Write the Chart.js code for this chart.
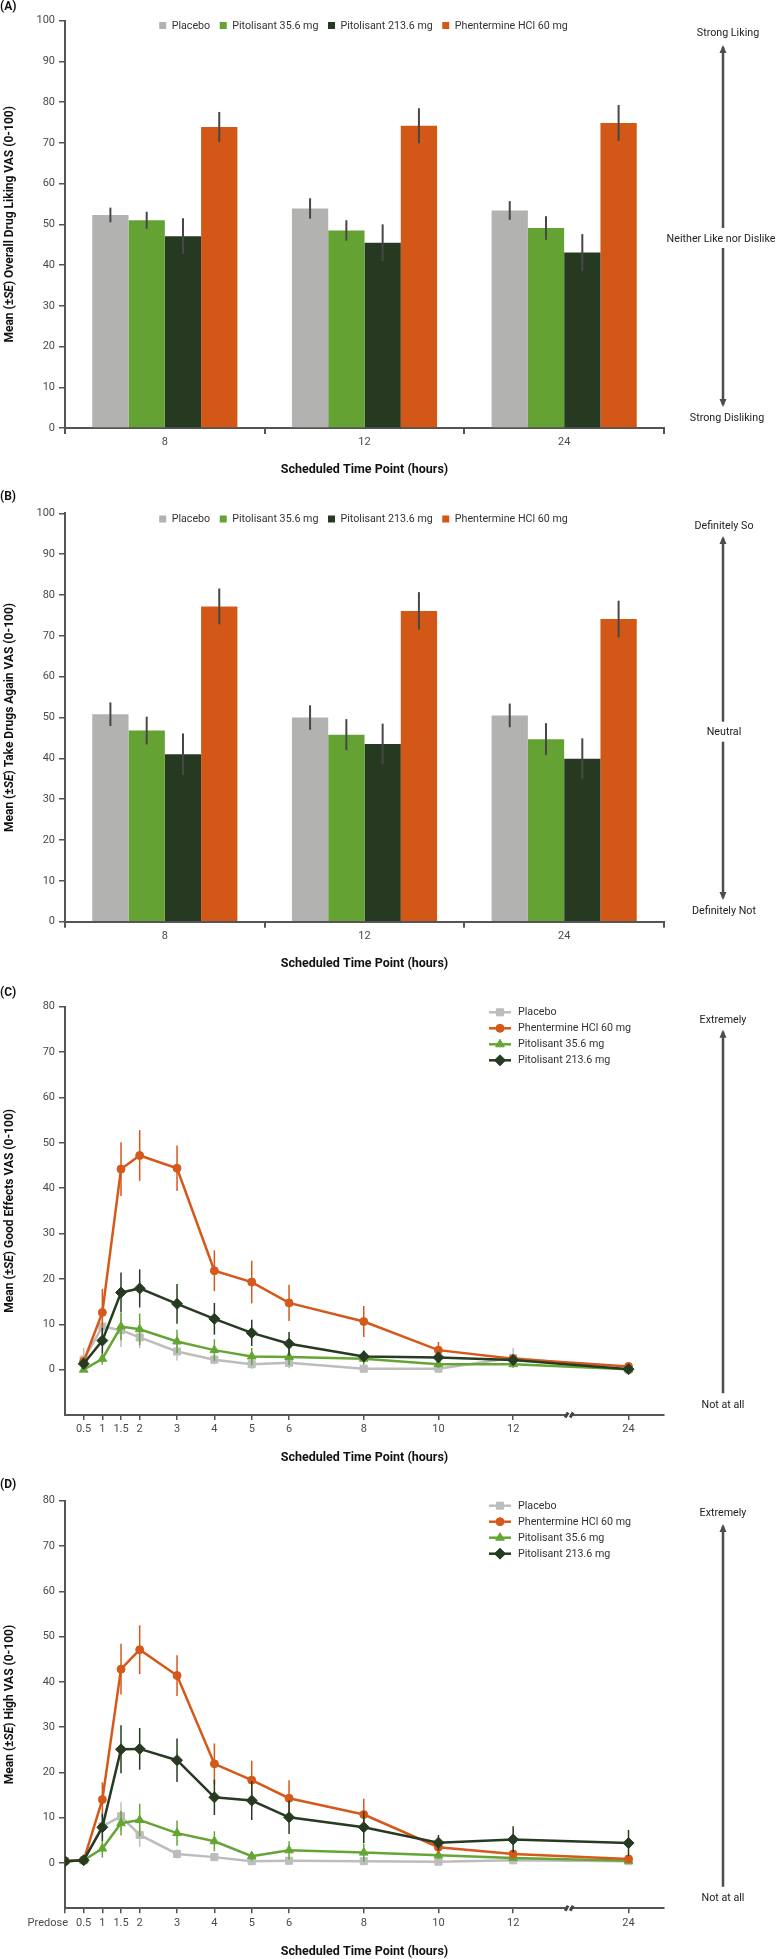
<!DOCTYPE html>
<html>
<head>
<meta charset="utf-8">
<script src="https://cdn.jsdelivr.net/npm/chart.js@4.4.0/dist/chart.umd.min.js"></script>
<style>
  body { margin: 0; background: #fff; width: 776px; height: 1959px; overflow: hidden; position: relative; }
  canvas { position: absolute; left: 0; }
</style>
</head>
<body>
<canvas id="chartA" width="776" height="485" style="top:0px"></canvas>
<canvas id="chartB" width="776" height="495" style="top:485px"></canvas>
<canvas id="chartC" width="776" height="490" style="top:980px"></canvas>
<canvas id="chartD" width="776" height="489" style="top:1470px"></canvas>
<script>
const FONT = 'Roboto, "Open Sans", sans-serif';

// ---- bar panels (A, B) ----
const barHours = ["8", "12", "24"];
const barGroups = ["Placebo", "Pitolisant 35.6 mg", "Pitolisant 213.6 mg", "Phentermine HCl 60 mg"];
const barColors = ["#b2b2b1", "#64a233", "#263a21", "#d35818"];

// (A) overall drug liking VAS, mean and SE
const likingPlacebo = [52.3, 53.9, 53.4];
const likingPlaceboSE = [1.8, 2.5, 2.3];
const likingPit35 = [51.0, 48.5, 49.1];
const likingPit35SE = [2.1, 2.5, 2.9];
const likingPit213 = [47.1, 45.5, 43.1];
const likingPit213SE = [4.4, 4.5, 4.5];
const likingPhen = [73.9, 74.2, 74.9];
const likingPhenSE = [3.7, 4.3, 4.4];

// (B) take drugs again VAS
const againPlacebo = [50.8, 50.0, 50.5];
const againPlaceboSE = [2.9, 3.0, 2.9];
const againPit35 = [46.8, 45.8, 44.7];
const againPit35SE = [3.4, 3.8, 3.9];
const againPit213 = [41.0, 43.5, 39.9];
const againPit213SE = [5.1, 5.0, 5.0];
const againPhen = [77.2, 76.1, 74.1];
const againPhenSE = [4.4, 4.6, 4.5];

// ---- line panels (C, D) ----
const timesC = [0.5, 1, 1.5, 2, 3, 4, 5, 6, 8, 10, 12, 24];
const timesD = [0, 0.5, 1, 1.5, 2, 3, 4, 5, 6, 8, 10, 12, 24];

// (C) good effects VAS
const goodPlacebo = [2.2, 9.5, 8.7, 7.1, 4.0, 2.2, 1.2, 1.5, 0.2, 0.2, 2.6, 0.0];
const goodPlaceboSE = [2.6, 2.0, 3.7, 2.4, 2.0, 1.0, 1.0, 1.2, 0.5, 0.5, 2.1, 0.3];
const goodPhen = [1.8, 12.6, 44.2, 47.2, 44.4, 21.8, 19.3, 14.7, 10.6, 4.3, 2.4, 0.7];
const goodPhenSE = [1.0, 5.2, 5.9, 5.6, 5.0, 4.5, 4.7, 4.0, 3.4, 1.8, 1.0, 0.8];
const goodPit35 = [0.0, 2.4, 9.5, 8.9, 6.2, 4.3, 2.9, 2.8, 2.4, 1.2, 1.2, 0.1];
const goodPit35SE = [0.5, 1.3, 3.0, 3.5, 2.6, 2.4, 1.9, 1.8, 1.3, 0.8, 0.8, 0.4];
const goodPit213 = [1.3, 6.4, 17.0, 17.9, 14.5, 11.2, 8.1, 5.7, 2.9, 2.7, 2.1, 0.1];
const goodPit213SE = [1.0, 2.8, 4.4, 4.2, 4.4, 3.5, 2.9, 2.6, 1.3, 0.8, 1.0, 0.5];

// (D) high VAS
const highPlacebo = [0.4, 0.6, 8.1, 10.3, 6.2, 2.0, 1.3, 0.4, 0.5, 0.4, 0.3, 0.6, 0.4];
const highPlaceboSE = [0.3, 0.4, 2.5, 3.1, 2.6, 1.0, 0.8, 0.4, 0.4, 0.4, 0.3, 0.4, 0.3];
const highPhen = [0.4, 0.6, 14.0, 42.8, 47.1, 41.4, 21.9, 18.3, 14.3, 10.7, 3.5, 2.0, 0.9];
const highPhenSE = [0.3, 0.4, 3.8, 5.6, 5.4, 4.5, 4.5, 4.3, 4.0, 3.5, 1.5, 0.8, 0.6];
const highPit35 = [0.4, 0.6, 3.2, 8.8, 9.5, 6.6, 4.8, 1.5, 2.8, 2.3, 1.7, 1.1, 0.5];
const highPit35SE = [0.3, 0.4, 2.0, 2.7, 3.6, 2.8, 2.2, 1.0, 2.0, 2.0, 0.8, 0.6, 0.4];
const highPit213 = [0.4, 0.6, 7.9, 25.1, 25.2, 22.7, 14.5, 13.8, 10.1, 7.9, 4.5, 5.2, 4.4];
const highPit213SE = [0.3, 0.4, 3.0, 5.3, 4.6, 4.8, 3.9, 4.3, 3.7, 3.5, 1.7, 2.9, 2.9];

// broken time axis: everything after 12 h is squeezed next to it
const BREAK_FROM = 12;
const BREAK_POS = 15.09;
const BREAK_MARK = 13.5;
const X_MAX = 16.04;
function axisPos(t) { return t > BREAK_FROM ? BREAK_POS : t; }

const lineLegend = [
  ["Placebo", "#bdbdbd", "rect", 5],
  ["Phentermine HCl 60 mg", "#d4591b", "circle", 4],
  ["Pitolisant 35.6 mg", "#65a535", "triangle", 5],
  ["Pitolisant 213.6 mg", "#263b21", "rectRot", 5.5]
];

Chart.defaults.font.family = FONT;
Chart.defaults.font.size = 11;
Chart.defaults.color = "#4a4a4a";

// error bars, drawn right after each dataset
const errorBars = {
  id: "errorBars",
  afterDatasetDraw(chart, args) {
    const ds = chart.data.datasets[args.index];
    if (!ds.errors) return;
    const ctx = chart.ctx, y = chart.scales.y;
    ctx.save();
    ctx.strokeStyle = ds.errorColor || ds.borderColor;
    ctx.lineWidth = ds.errorWidth || 1.5;
    args.meta.data.forEach((el, j) => {
      const d = ds.data[j];
      const v = typeof d === "object" ? d.y : d;
      const e = ds.errors[j];
      ctx.beginPath();
      ctx.moveTo(el.x, y.getPixelForValue(v + e));
      ctx.lineTo(el.x, y.getPixelForValue(v - e));
      ctx.stroke();
    });
    ctx.restore();
  }
};

function drawYTitle(ctx, parts, x, y) {
  ctx.save();
  ctx.translate(x, y);
  ctx.rotate(-Math.PI / 2);
  ctx.textBaseline = "middle";
  ctx.textAlign = "left";
  ctx.fillStyle = "#111";
  const fonts = parts.map((p, i) => (i === 1 ? "italic bold 12px " : "bold 12px ") + FONT);
  let total = 0;
  const widths = parts.map((p, i) => {
    ctx.font = fonts[i];
    const w = ctx.measureText(p).width;
    total += w;
    return w;
  });
  let cx = -total / 2;
  parts.forEach((p, i) => {
    ctx.font = fonts[i];
    ctx.fillText(p, cx, 0);
    cx += widths[i];
  });
  ctx.restore();
}

function drawArrow(ctx, x, from, to, head) {
  ctx.beginPath();
  ctx.moveTo(x, from);
  ctx.lineTo(x, to);
  ctx.stroke();
  if (!head) return;
  const dir = to < from ? -1 : 1;
  ctx.beginPath();
  ctx.moveTo(x, to + dir * 2);
  ctx.lineTo(x - 3.5, to - dir * 6);
  ctx.lineTo(x + 3.5, to - dir * 6);
  ctx.closePath();
  ctx.fill();
}

// titles, legends, side scale and the axis break
const decor = {
  id: "decor",
  afterDraw(chart, args, o) {
    const ctx = chart.ctx, area = chart.chartArea;
    ctx.save();
    ctx.fillStyle = "#111";
    ctx.textBaseline = "middle";
    ctx.textAlign = "left";
    ctx.font = "bold 12px " + FONT;
    ctx.fillText(o.panel, 0, o.panelY);

    drawYTitle(ctx, o.yTitle, 10, (area.top + area.bottom) / 2);

    ctx.font = "bold 12.5px " + FONT;
    ctx.textAlign = "center";
    ctx.fillStyle = "#111";
    ctx.fillText("Scheduled Time Point (hours)", (area.left + area.right) / 2, o.xTitleY);

    // side scale
    ctx.font = "10.7px " + FONT;
    ctx.fillStyle = "#222";
    o.sideText.forEach(([t, x, y]) => ctx.fillText(t, x, y));
    ctx.strokeStyle = "#4d4d4d";
    ctx.fillStyle = "#4d4d4d";
    ctx.lineWidth = 2.5;
    o.sideArrows.forEach(([from, to, head]) => drawArrow(ctx, 723, from, to, head));

    // legend
    ctx.font = "10.7px " + FONT;
    ctx.textAlign = "left";
    if (o.legendType === "box") {
      const box = 7, gapIn = 5.5, gapOut = 9.5;
      const widths = barGroups.map(g => ctx.measureText(g).width);
      const total = widths.reduce((a, w) => a + box + gapIn + w, 0) + gapOut * (barGroups.length - 1);
      let x = (area.left + area.right) / 2 - total / 2 - 1;
      barGroups.forEach((g, i) => {
        ctx.fillStyle = barColors[i];
        ctx.fillRect(x, o.legendY - box / 2, box, box);
        ctx.fillStyle = "#333";
        ctx.fillText(g, x + box + gapIn, o.legendY + 0.5);
        x += box + gapIn + widths[i] + gapOut;
      });
    } else if (o.legendType === "line") {
      lineLegend.forEach(([label, color, style, r], i) => {
        const y = o.legendY + i * 16;
        ctx.strokeStyle = color;
        ctx.fillStyle = color;
        ctx.lineWidth = 2.5;
        ctx.beginPath();
        ctx.moveTo(489, y);
        ctx.lineTo(511, y);
        ctx.stroke();
        ctx.lineWidth = 1;
        Chart.helpers.drawPoint(ctx, { pointStyle: style, radius: r, rotation: 0, borderWidth: 1 }, 500, y);
        ctx.fillStyle = "#333";
        ctx.fillText(label, 518, y + 0.5);
      });
    }

    if (o.breakMark) {
      const bx = chart.scales.x.getPixelForValue(BREAK_MARK), by = area.bottom;
      ctx.fillStyle = "#fff";
      ctx.fillRect(bx - 2, by - 2, 3, 4);
      ctx.strokeStyle = "#444";
      ctx.lineWidth = 3;
      [-2.5, 2.5].forEach(dx => {
        ctx.beginPath();
        ctx.moveTo(bx + dx - 1.5, by + 2.5);
        ctx.lineTo(bx + dx + 1.5, by - 2.5);
        ctx.stroke();
      });
    }
    if (o.predose) {
      ctx.font = "11px " + FONT;
      ctx.fillStyle = "#4a4a4a";
      ctx.textAlign = "right";
      ctx.fillText("Predose", chart.scales.x.getPixelForValue(0) + 3, area.bottom + 14.5);
    }
    ctx.restore();
  }
};

function barSets(vals, errs) {
  return barGroups.map((g, i) => ({
    label: g,
    data: vals[i],
    errors: errs[i],
    errorColor: "#474747",
    errorWidth: 2,
    backgroundColor: barColors[i],
    borderWidth: 0,
    categoryPercentage: 0.727,
    barPercentage: 1
  }));
}

function lineSet(times, vals, errs, legendIdx, order) {
  const [label, color, style, r] = lineLegend[legendIdx];
  return {
    label,
    data: times.map((t, i) => ({ x: axisPos(t), y: vals[i] })),
    errors: errs,
    borderColor: color,
    backgroundColor: color,
    borderWidth: 2.5,
    pointStyle: style,
    pointRadius: r,
    pointBorderWidth: 1,
    errorWidth: 1.5,
    order
  };
}

function yAxis(min, max, ticks) {
  return {
    min, max,
    afterBuildTicks: s => { s.ticks = ticks.map(v => ({ value: v })); },
    afterFit: s => { s.width = 65; },
    border: { color: "#555", width: 2 },
    grid: { drawOnChartArea: false, drawTicks: true, tickLength: 6, color: "#555", lineWidth: 1.5 },
    ticks: { padding: 4, color: "#4a4a4a", font: { size: 11 } }
  };
}

function makeBar(id, height, padTop, vals, errs, deco) {
  new Chart(document.getElementById(id), {
    type: "bar",
    data: { labels: barHours, datasets: barSets(vals, errs) },
    options: {
      responsive: false,
      animation: false,
      events: [],
      devicePixelRatio: 1,
      layout: { padding: { top: padTop, right: 112, left: 0, bottom: 0 } },
      plugins: { legend: { display: false }, tooltip: { enabled: false }, decor: deco },
      scales: {
        x: {
          afterFit: s => { s.height = height - deco.plotBottom; },
          border: { color: "#555", width: 2 },
          grid: { drawOnChartArea: false, drawTicks: true, tickLength: 6, color: "#555", lineWidth: 2, offset: true },
          ticks: { padding: 2, color: "#4a4a4a", font: { size: 11 } }
        },
        y: yAxis(0, 100, [0, 10, 20, 30, 40, 50, 60, 70, 80, 90, 100])
      }
    },
    plugins: [errorBars, decor]
  });
}

function makeLine(id, height, padTop, times, sets, labelFor, deco) {
  new Chart(document.getElementById(id), {
    type: "line",
    data: { datasets: sets },
    options: {
      responsive: false,
      animation: false,
      events: [],
      devicePixelRatio: 1,
      layout: { padding: { top: padTop, right: 112, left: 0, bottom: 0 } },
      plugins: { legend: { display: false }, tooltip: { enabled: false }, decor: deco },
      scales: {
        x: {
          type: "linear",
          min: 0,
          max: X_MAX,
          afterBuildTicks: s => { s.ticks = times.map(t => ({ value: axisPos(t) })); },
          afterFit: s => { s.height = height - deco.plotBottom; },
          border: { color: "#555", width: 2 },
          grid: { drawOnChartArea: false, drawTicks: true, tickLength: 5, color: "#555", lineWidth: 1.5 },
          ticks: {
            autoSkip: false, maxRotation: 0, padding: 3, color: "#4a4a4a", font: { size: 11 },
            callback: (v, i) => labelFor(times[i])
          }
        },
        y: yAxis(-10, 80, [0, 10, 20, 30, 40, 50, 60, 70, 80])
      }
    },
    plugins: [errorBars, decor]
  });
}

makeBar("chartA", 485, 20.7,
  [likingPlacebo, likingPit35, likingPit213, likingPhen],
  [likingPlaceboSE, likingPit35SE, likingPit213SE, likingPhenSE],
  {
    panel: "(A)", panelY: 7, plotBottom: 428, xTitleY: 470, legendType: "box", legendY: 25.5,
    yTitle: ["Mean (\u00b1", "SE", ") Overall Drug Liking VAS (0-100)"],
    sideText: [["Strong Liking", 728, 33], ["Neither Like nor Dislike", 721, 239], ["Strong Disliking", 727, 418]],
    sideArrows: [[228, 47, true], [248, 405, true]]
  });

makeBar("chartB", 495, 28.3,
  [againPlacebo, againPit35, againPit213, againPhen],
  [againPlaceboSE, againPit35SE, againPit213SE, againPhenSE],
  {
    panel: "(B)", panelY: 12, plotBottom: 436.7, xTitleY: 479, legendType: "box", legendY: 34,
    yTitle: ["Mean (\u00b1", "SE", ") Take Drugs Again VAS (0-100)"],
    sideText: [["Definitely So", 724, 41.7], ["Neutral", 724, 247.3], ["Definitely Not", 724, 426.7]],
    sideArrows: [[236.7, 53, true], [256.7, 413, true]]
  });

makeLine("chartC", 490, 26.7, timesC, [
    lineSet(timesC, goodPlacebo, goodPlaceboSE, 0, 3),
    lineSet(timesC, goodPhen, goodPhenSE, 1, 1),
    lineSet(timesC, goodPit35, goodPit35SE, 2, 2),
    lineSet(timesC, goodPit213, goodPit213SE, 3, 0)
  ], t => String(t),
  {
    panel: "(C)", panelY: 13, plotBottom: 435, xTitleY: 478, legendType: "line", legendY: 32.3,
    yTitle: ["Mean (\u00b1", "SE", ") Good Effects VAS (0-100)"],
    sideText: [["Extremely", 723, 40], ["Not at all", 723, 425]],
    sideArrows: [[413.3, 51.7, true]],
    breakMark: true
  });

makeLine("chartD", 489, 30.7, timesD, [
    lineSet(timesD, highPlacebo, highPlaceboSE, 0, 3),
    lineSet(timesD, highPhen, highPhenSE, 1, 1),
    lineSet(timesD, highPit35, highPit35SE, 2, 2),
    lineSet(timesD, highPit213, highPit213SE, 3, 0)
  ], t => (t === 0 ? "" : String(t)),
  {
    panel: "(D)", panelY: 15, plotBottom: 438.3, xTitleY: 481.7, legendType: "line", legendY: 35.7,
    yTitle: ["Mean (\u00b1", "SE", ") High VAS (0-100)"],
    sideText: [["Extremely", 723, 43.3], ["Not at all", 723, 428.3]],
    sideArrows: [[416.7, 56, true]],
    breakMark: true, predose: true
  });
</script>
</body>
</html>
